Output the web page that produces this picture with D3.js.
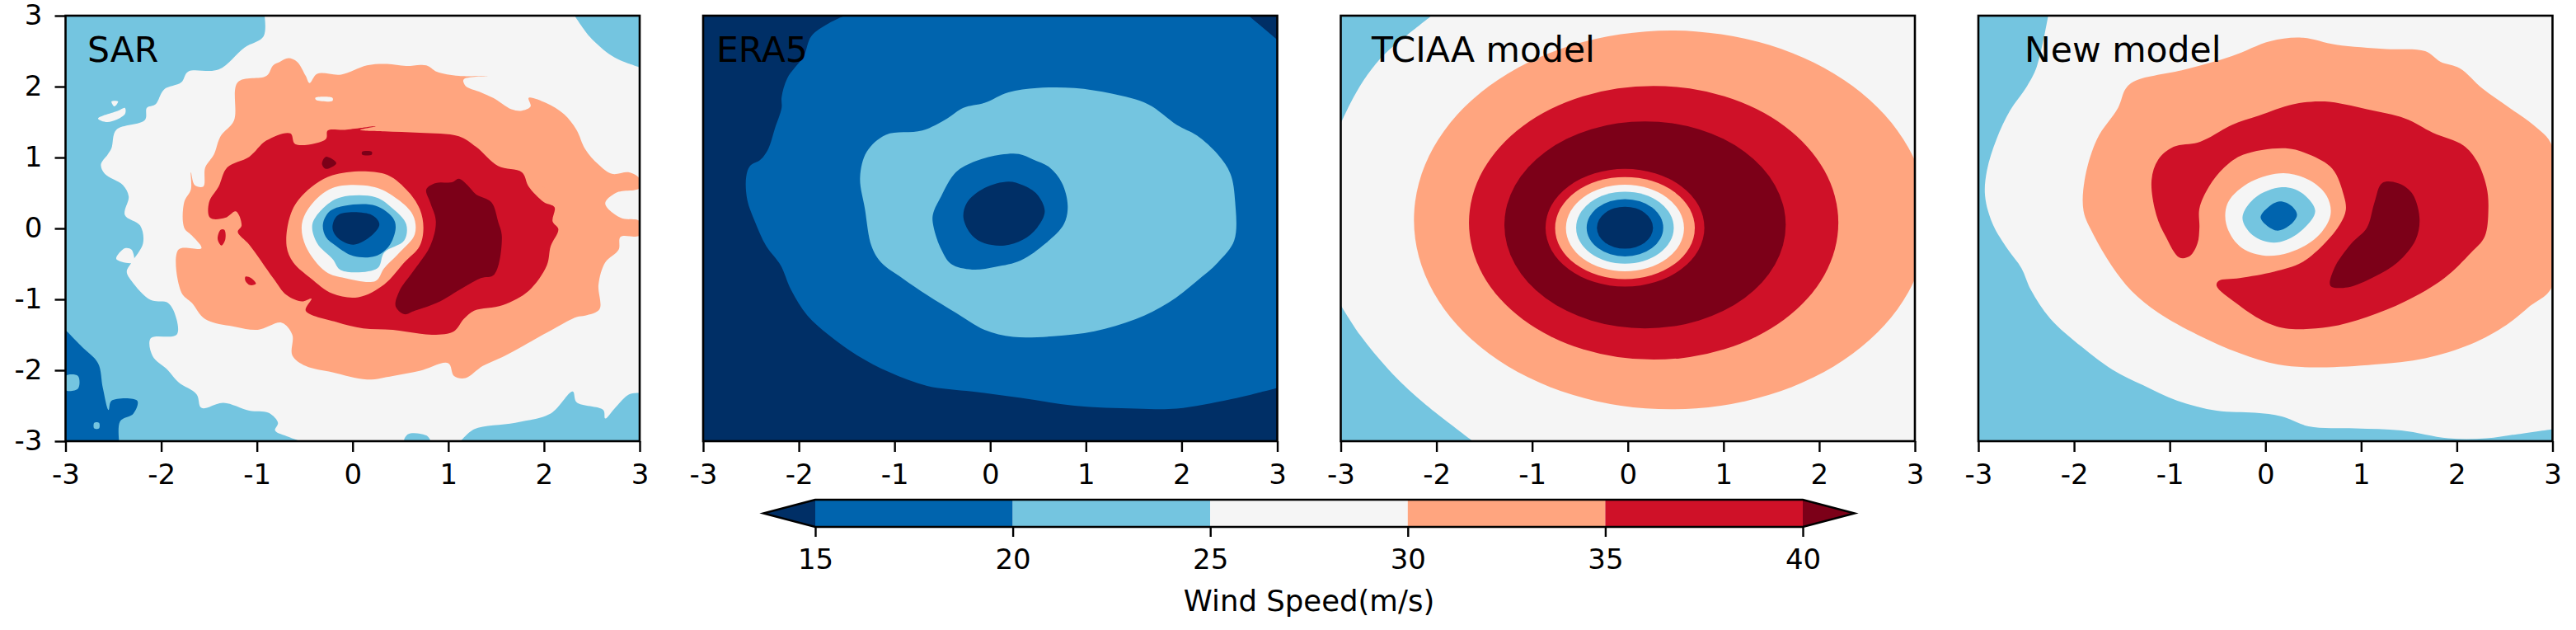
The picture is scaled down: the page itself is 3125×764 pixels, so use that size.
<!DOCTYPE html>
<html>
<head>
<meta charset="utf-8">
<script src="https://cdn.jsdelivr.net/npm/d3@7"></script>
<style>
  html, body { margin: 0; padding: 0; background: white; }
  text { font-family: "DejaVu Sans", sans-serif; fill: black; }
</style>
</head>
<body>
<div class="chart"></div>
<script>

// wind speed bands
var levels = [15, 20, 25, 30, 35, 40];
var bandColors = ["#002f66", "#0064ae", "#74c5e0", "#f5f5f5", "#ffa57f", "#cf1128", "#7c0018"];
var axisTicks = [-3, -2, -1, 0, 1, 2, 3];
var panelNames = ["SAR", "ERA5", "TCIAA model", "New model"];

// contour outlines below are [x, y] in the axis units

// ---- SAR ----
var sarLightLeft = [[-0.92,3],[-0.93,2.71],[-1.13,2.55],[-1.40,2.24],[-1.72,2.21],[-1.79,2.06],[-1.97,1.96],[-2.06,1.75],[-2.15,1.70],[-2.17,1.53],[-2.47,1.39],[-2.52,1.13],[-2.56,1.04],[-2.63,0.90],[-2.59,0.77],[-2.40,0.61],[-2.34,0.45],[-2.38,0.19],[-2.22,0.04],[-2.19,-0.21],[-2.31,-0.48],[-2.36,-0.61],[-2.31,-0.74],[-2.11,-1.01],[-1.93,-1.05],[-1.84,-1.28],[-1.84,-1.50],[-2.11,-1.55],[-2.09,-1.80],[-1.93,-2.0],[-1.82,-2.17],[-1.63,-2.34],[-1.58,-2.53],[-1.35,-2.46],[-1.08,-2.57],[-0.88,-2.6],[-0.78,-2.74],[-0.81,-2.85],[-0.67,-2.94],[-0.55,-3]];
var sarLightLeftClose = [[-3,-3],[-3,3]];
var sarLightTopRight = [[2.32,3],[2.48,2.70],[2.68,2.46],[2.80,2.37],[3,2.27]];
var sarLightTopRightClose = [[3,3]];
var sarLightBottomRight = [[1.13,-3],[1.27,-2.83],[1.70,-2.74],[2.07,-2.61],[2.30,-2.30],[2.34,-2.45],[2.62,-2.56],[2.64,-2.68],[2.75,-2.52],[2.89,-2.34],[3,-2.32]];
var sarLightBottomRightClose = [[3,-3]];
var sarLightBottom = [[0.54,-3],[0.58,-2.90],[0.77,-2.92],[0.81,-3]];
var sarHole1 = [[-2.66,1.55],[-2.45,1.66],[-2.38,1.70],[-2.38,1.61],[-2.56,1.50]];
var sarHole2 = [[-2.52,1.79],[-2.45,1.79],[-2.49,1.72]];
var sarHole3 = [[-2.38,-0.28],[-2.31,-0.30],[-2.29,-0.48],[-2.47,-0.43]];
var sarBlueCorner = [[-3,-1.43],[-2.82,-1.68],[-2.66,-1.90],[-2.61,-2.25],[-2.55,-2.56],[-2.52,-2.43],[-2.25,-2.43],[-2.29,-2.61],[-2.43,-2.72],[-2.44,-3]];
var sarBlueCornerClose = [[-3,-3]];
var sarCornerHole1 = [[-3,-2.08],[-2.87,-2.08],[-2.87,-2.26],[-3,-2.28]];
var sarCornerHole2 = [[-2.70,-2.74],[-2.65,-2.74],[-2.65,-2.82],[-2.70,-2.82]];
var sarSalmon = [[-0.76,2.35],[-0.67,2.40],[-0.58,2.35],[-0.49,2.15],[-0.45,2.05],[-0.37,2.18],[-0.12,2.17],[0.15,2.30],[0.36,2.32],[0.56,2.29],[0.77,2.30],[0.88,2.21],[1.11,2.15],[1.41,2.15],[1.16,2.10],[1.18,2.01],[1.34,1.92],[1.47,1.84],[1.66,1.68],[1.77,1.66],[1.86,1.72],[1.84,1.84],[2.02,1.77],[2.21,1.61],[2.34,1.39],[2.43,1.12],[2.57,0.90],[2.71,0.77],[2.89,0.79],[3,0.70],[3,0.57],[2.75,0.50],[2.64,0.35],[2.80,0.15],[3,0.10],[3,-0.10],[2.80,-0.12],[2.78,-0.30],[2.64,-0.48],[2.57,-0.79],[2.58,-1.14],[2.43,-1.23],[2.34,-1.25],[2.11,-1.41],[1.79,-1.65],[1.57,-1.81],[1.36,-1.94],[1.18,-2.11],[1.06,-2.08],[1.0,-1.90],[0.70,-2.01],[0.42,-2.08],[0.15,-2.13],[-0.21,-2.03],[-0.49,-1.94],[-0.63,-1.79],[-0.63,-1.50],[-0.74,-1.33],[-0.99,-1.43],[-1.22,-1.39],[-1.54,-1.28],[-1.68,-1.05],[-1.79,-0.90],[-1.82,-0.30],[-1.58,-0.28],[-1.68,-0.10],[-1.76,0.01],[-1.76,0.37],[-1.69,0.55],[-1.69,0.79],[-1.65,0.61],[-1.56,0.59],[-1.54,0.86],[-1.45,1.04],[-1.38,1.30],[-1.24,1.52],[-1.20,2.06],[-0.90,2.15],[-0.83,2.30]];
var sarSalmonHole = [[-0.39,1.84],[-0.21,1.84],[-0.21,1.80],[-0.38,1.81]];
var sarRed = [[-0.90,1.24],[-0.65,1.34],[-0.60,1.19],[-0.28,1.26],[-0.26,1.38],[-0.08,1.39],[0.24,1.44],[0.08,1.39],[0.33,1.37],[0.70,1.35],[1.11,1.30],[1.29,1.15],[1.52,0.88],[1.77,0.79],[1.84,0.59],[2.0,0.37],[2.11,0.30],[2.09,0.10],[2.15,-0.01],[2.07,-0.25],[2.03,-0.52],[1.84,-0.88],[1.57,-1.08],[1.27,-1.16],[1.16,-1.28],[1.06,-1.45],[0.84,-1.50],[0.42,-1.43],[0.11,-1.41],[-0.17,-1.32],[-0.49,-1.16],[-0.43,-0.99],[-0.53,-1.03],[-0.69,-0.94],[-0.83,-0.70],[-1.08,-0.23],[-1.20,-0.05],[-1.16,0.04],[-1.22,0.24],[-1.33,0.15],[-1.49,0.15],[-1.50,0.37],[-1.40,0.59],[-1.31,0.86],[-1.08,1.01]];
var sarRedSpot1 = [[-1.38,-0.02],[-1.34,-0.02],[-1.33,-0.15],[-1.37,-0.24],[-1.41,-0.15]];
var sarRedSpot2 = [[-1.12,-0.68],[-1.06,-0.70],[-1.01,-0.78],[-1.07,-0.80],[-1.12,-0.74]];
var sarRedHole = [[1.98,0.59],[2.05,0.53],[2.03,0.50],[1.98,0.55]];
var sarDarkRed = [[0.77,0.55],[0.87,0.64],[1.04,0.65],[1.11,0.70],[1.20,0.61],[1.29,0.48],[1.45,0.37],[1.52,0.10],[1.56,-0.12],[1.48,-0.65],[1.34,-0.70],[1.16,-0.83],[0.88,-1.05],[0.65,-1.16],[0.54,-1.21],[0.45,-1.10],[0.49,-0.88],[0.63,-0.61],[0.81,-0.25],[0.87,0.10],[0.81,0.37]];
var sarDarkSpot1 = [[-0.28,1.01],[-0.17,0.92],[-0.28,0.84],[-0.32,0.91]];
var sarDarkSpot2 = [[0.10,1.08],[0.20,1.08],[0.20,1.04],[0.10,1.04]];
var sarEyeSalmon = [[-0.21,0.75],[0.33,0.77],[0.56,0.55],[0.70,0.28],[0.74,0.01],[0.70,-0.25],[0.54,-0.48],[0.33,-0.79],[0.06,-0.97],[-0.21,-0.92],[-0.44,-0.70],[-0.62,-0.48],[-0.69,-0.25],[-0.65,0.19],[-0.53,0.46]];
var sarEyeWhite = [[-0.21,0.57],[0.20,0.59],[0.42,0.46],[0.63,0.19],[0.65,-0.08],[0.49,-0.34],[0.33,-0.56],[0.24,-0.74],[-0.08,-0.70],[-0.28,-0.61],[-0.49,-0.25],[-0.53,0.06],[-0.44,0.32]];
var sarEyeLight = [[-0.12,0.44],[0.24,0.44],[0.42,0.28],[0.56,0.06],[0.54,-0.17],[0.33,-0.34],[0.26,-0.56],[-0.12,-0.59],[-0.21,-0.43],[-0.37,-0.21],[-0.42,0.06],[-0.28,0.32]];
var sarEyeBlue = [[-0.08,0.32],[0.24,0.32],[0.42,0.15],[0.45,0.01],[0.38,-0.25],[0.24,-0.39],[0.01,-0.39],[-0.17,-0.25],[-0.28,-0.12],[-0.31,0.06],[-0.24,0.24]];
var sarEyeNavy = [[-0.15,0.19],[0.20,0.19],[0.28,0.06],[0.20,-0.10],[0.01,-0.23],[-0.15,-0.14],[-0.21,0.01]];

// ---- ERA5 ----
var eraBlue = [[-1.52,3],[-1.69,2.89],[-1.87,2.71],[-1.95,2.43],[-2.12,2.12],[-2.18,1.85],[-2.18,1.70],[-2.25,1.41],[-2.32,1.12],[-2.40,0.97],[-2.51,0.88],[-2.55,0.73],[-2.54,0.41],[-2.46,0.10],[-2.34,-0.25],[-2.19,-0.52],[-2.08,-0.87],[-1.91,-1.23],[-1.69,-1.50],[-1.39,-1.79],[-1.05,-2.03],[-0.66,-2.22],[-0.19,-2.30],[0.32,-2.39],[0.88,-2.50],[1.52,-2.54],[1.95,-2.54],[2.51,-2.41],[3,-2.25]];
var eraBlueClose = [[3,2.66],[2.70,3]];
var eraLight = [[-1.09,1.32],[-0.71,1.38],[-0.45,1.55],[-0.28,1.70],[-0.06,1.77],[0.19,1.92],[0.49,1.98],[0.88,1.98],[1.27,1.90],[1.65,1.75],[1.95,1.46],[2.16,1.31],[2.38,1.04],[2.51,0.77],[2.56,0.37],[2.55,-0.17],[2.38,-0.48],[2.16,-0.74],[1.86,-1.05],[1.52,-1.28],[1.09,-1.45],[0.66,-1.52],[0.24,-1.53],[-0.06,-1.43],[-0.36,-1.19],[-0.66,-0.94],[-0.92,-0.70],[-1.14,-0.48],[-1.24,-0.25],[-1.31,0.28],[-1.36,0.72],[-1.29,1.08]];
var eraEyeBlue = [[0.11,1.04],[0.30,1.05],[0.45,0.97],[0.62,0.86],[0.75,0.64],[0.81,0.32],[0.77,0.06],[0.58,-0.21],[0.32,-0.45],[0.06,-0.54],[-0.19,-0.58],[-0.41,-0.50],[-0.51,-0.30],[-0.59,0.01],[-0.60,0.19],[-0.51,0.46],[-0.36,0.79],[-0.15,0.95]];
var eraEyeNavy = [[0.19,0.66],[0.34,0.61],[0.49,0.48],[0.57,0.24],[0.49,0.01],[0.34,-0.16],[0.15,-0.24],[-0.06,-0.21],[-0.19,-0.10],[-0.28,0.15],[-0.24,0.37],[-0.06,0.57]];

// ---- TCIAA model ----
var tciaaCornerTop = [[-2.05,3],[-2.33,2.70],[-2.54,2.46],[-2.72,2.17],[-2.87,1.84],[-3,1.48]];
var tciaaCornerTopClose = [[-3,3]];
var tciaaCornerBottom = [[-3,-1.08],[-2.80,-1.50],[-2.50,-1.99],[-2.16,-2.43],[-1.62,-3]];
var tciaaCornerBottomClose = [[-3,-3]];
// wind speed inside, centre x, centre y, radius x, radius y
var tciaaRingSpeed = [32, 37, 42, 37, 32, 27, 22, 17, 12];
var tciaaRingCx = [0.45, 0.27, 0.18, -0.03, -0.03, -0.03, -0.03, -0.03, -0.03];
var tciaaRingCy = [0.12, 0.08, 0.05, 0.01, 0.005, 0.005, 0.01, 0.01, 0.01];
var tciaaRingRx = [2.685, 1.93, 1.47, 0.83, 0.73, 0.617, 0.51, 0.40, 0.293];
var tciaaRingRy = [2.67, 1.93, 1.46, 0.83, 0.72, 0.61, 0.507, 0.404, 0.296];

// ---- New model ----
var newLight = [[-2.27,3],[-2.39,2.28],[-2.49,2.01],[-2.67,1.66],[-2.81,1.26],[-2.91,0.82],[-2.93,0.46],[-2.85,0.06],[-2.69,-0.30],[-2.55,-0.56],[-2.45,-0.87],[-2.25,-1.27],[-1.92,-1.67],[-1.60,-1.99],[-1.28,-2.21],[-0.92,-2.43],[-0.51,-2.57],[-0.11,-2.60],[0.17,-2.65],[0.45,-2.79],[0.94,-2.82],[1.42,-2.85],[1.91,-2.96],[2.31,-2.96],[2.64,-2.90],[3,-2.83]];
var newLightClose = [[3,-3],[-3,-3],[-3,3]];
var newSalmon = [[-1.46,1.97],[-1.36,2.08],[-0.84,2.24],[-0.35,2.43],[0.05,2.64],[0.38,2.69],[0.74,2.59],[1.26,2.53],[1.67,2.50],[1.83,2.35],[2.03,2.26],[2.27,1.97],[2.55,1.70],[2.80,1.46],[3,1.15],[3,-0.81],[2.76,-1.10],[2.52,-1.36],[2.15,-1.63],[1.67,-1.83],[1.14,-1.92],[0.54,-1.96],[0.13,-1.92],[-0.27,-1.76],[-0.71,-1.50],[-1.12,-1.19],[-1.40,-0.88],[-1.61,-0.52],[-1.80,-0.08],[-1.90,0.24],[-1.89,0.68],[-1.76,1.26],[-1.54,1.70]];
var newRed = [[-0.51,-0.81],[-0.31,-1.05],[-0.03,-1.30],[0.21,-1.41],[0.66,-1.39],[1.06,-1.25],[1.46,-1.03],[1.87,-0.70],[2.15,-0.34],[2.29,-0.12],[2.33,0.28],[2.31,0.59],[2.21,0.95],[2.07,1.17],[1.75,1.35],[1.46,1.55],[1.06,1.68],[0.62,1.79],[0.29,1.75],[-0.07,1.59],[-0.35,1.46],[-0.59,1.28],[-0.71,1.21],[-0.96,1.15],[-1.12,0.97],[-1.19,0.68],[-1.14,0.19],[-1.04,-0.12],[-0.90,-0.41],[-0.79,-0.39],[-0.71,-0.21],[-0.69,0.01],[-0.69,0.28],[-0.59,0.59],[-0.43,0.86],[-0.23,1.04],[0.21,1.13],[0.46,1.04],[0.70,0.84],[0.82,0.46],[0.84,0.26],[0.78,0.06],[0.62,-0.21],[0.38,-0.48],[0.09,-0.61],[-0.27,-0.70],[-0.49,-0.74]];
var newDarkRed = [[1.22,0.64],[1.38,0.64],[1.53,0.50],[1.61,0.15],[1.57,-0.16],[1.38,-0.48],[1.14,-0.68],[0.86,-0.83],[0.68,-0.81],[0.72,-0.56],[0.90,-0.21],[1.06,0.01],[1.14,0.37]];
var newEyeWhite = [[0.19,0.78],[0.46,0.68],[0.64,0.46],[0.68,0.19],[0.54,-0.12],[0.25,-0.34],[-0.03,-0.38],[-0.27,-0.25],[-0.41,0.06],[-0.39,0.37],[-0.15,0.66]];
var newEyeLight = [[0.17,0.58],[0.38,0.50],[0.52,0.24],[0.33,-0.08],[0.09,-0.20],[-0.13,-0.10],[-0.24,0.15],[-0.11,0.43]];
var newEyeBlue = [[0.15,0.38],[0.27,0.32],[0.33,0.19],[0.25,0.04],[0.11,-0.03],[-0.05,0.15],[0.03,0.30]];

// layers are painted in order: [wind speed, outline, straight closing points]
var sarLayers = [
  [22, sarLightLeft, sarLightLeftClose], [22, sarLightTopRight, sarLightTopRightClose],
  [22, sarLightBottomRight, sarLightBottomRightClose], [22, sarLightBottom],
  [27, sarHole1], [27, sarHole2], [27, sarHole3],
  [17, sarBlueCorner, sarBlueCornerClose], [22, sarCornerHole1], [22, sarCornerHole2],
  [32, sarSalmon], [27, sarSalmonHole],
  [37, sarRed], [37, sarRedSpot1], [37, sarRedSpot2], [32, sarRedHole],
  [42, sarDarkRed], [42, sarDarkSpot1], [42, sarDarkSpot2],
  [32, sarEyeSalmon], [27, sarEyeWhite], [22, sarEyeLight], [17, sarEyeBlue], [12, sarEyeNavy]
];
var eraLayers = [
  [17, eraBlue, eraBlueClose], [22, eraLight], [17, eraEyeBlue], [12, eraEyeNavy]
];
var tciaaLayers = [
  [22, tciaaCornerTop, tciaaCornerTopClose], [22, tciaaCornerBottom, tciaaCornerBottomClose]
];
var newLayers = [
  [22, newLight, newLightClose], [32, newSalmon],
  [37, newRed], [42, newDarkRed], [27, newEyeWhite], [22, newEyeLight], [17, newEyeBlue]
];

var width = 3125, height = 764;
var panelLeft = [79.5, 853, 1626.5, 2400];
var panelWidth = 696.5;
var panelTop = 19, panelBottom = 535;
var labelX = [106, 869, 1664, 2456];
var panelBack = [27, 12, 27, 27];

var color = d3.scaleThreshold().domain(levels).range(bandColors);

var svg = d3.select(".chart").append("svg")
    .attr("width", width)
    .attr("height", height)
    .style("display", "block");

var y = d3.scaleLinear().domain([-3, 3]).range([panelBottom, panelTop]);

function drawLayer(g, x, layer) {
  var line = d3.line()
      .x(function(d) { return x(d[0]); })
      .y(function(d) { return y(d[1]); });
  var path;
  if (layer[2]) {
    // smooth contour, then straight along the frame
    path = line.curve(d3.curveCatmullRom)(layer[1]);
    layer[2].forEach(function(d) { path += "L" + x(d[0]) + "," + y(d[1]); });
    path += "Z";
  } else {
    path = line.curve(d3.curveCatmullRomClosed)(layer[1]);
  }
  g.append("path")
      .attr("d", path)
      .attr("fill", color(layer[0]));
}

function drawPanel(i, layers) {
  var x = d3.scaleLinear().domain([-3, 3]).range([panelLeft[i], panelLeft[i] + panelWidth]);

  svg.append("clipPath").attr("id", "clip" + i)
    .append("rect")
      .attr("x", panelLeft[i])
      .attr("y", panelTop)
      .attr("width", panelWidth)
      .attr("height", panelBottom - panelTop);

  var g = svg.append("g").attr("clip-path", "url(#clip" + i + ")");

  g.append("rect")
      .attr("x", panelLeft[i])
      .attr("y", panelTop)
      .attr("width", panelWidth)
      .attr("height", panelBottom - panelTop)
      .attr("fill", color(panelBack[i]));

  layers.forEach(function(layer) { drawLayer(g, x, layer); });

  if (i == 2) {
    tciaaRingSpeed.forEach(function(speed, k) {
      g.append("ellipse")
          .attr("cx", x(tciaaRingCx[k]))
          .attr("cy", y(tciaaRingCy[k]))
          .attr("rx", x(tciaaRingRx[k]) - x(0))
          .attr("ry", y(0) - y(tciaaRingRy[k]))
          .attr("fill", color(speed));
    });
  }

  svg.append("rect")
      .attr("x", panelLeft[i])
      .attr("y", panelTop)
      .attr("width", panelWidth)
      .attr("height", panelBottom - panelTop)
      .attr("fill", "none")
      .attr("stroke", "black")
      .attr("stroke-width", 2.6);

  var xAxis = svg.append("g")
      .attr("transform", "translate(0," + panelBottom + ")")
      .call(d3.axisBottom(x).tickValues(axisTicks).tickFormat(String).tickSize(13).tickPadding(15));
  styleAxis(xAxis);

  if (i == 0) {
    var yAxis = svg.append("g")
        .attr("transform", "translate(" + panelLeft[0] + ",0)")
        .call(d3.axisLeft(y).tickValues(axisTicks).tickFormat(String).tickSize(13).tickPadding(15));
    styleAxis(yAxis);
  }

  svg.append("text")
      .text(panelNames[i])
      .attr("x", labelX[i])
      .attr("y", 75)
      .attr("font-size", 42.5);
}

function styleAxis(axis) {
  axis.select(".domain").remove();
  axis.selectAll("line").attr("stroke-width", 2.4).attr("stroke", "black");
  axis.selectAll("text")
      .attr("font-size", 34)
      .attr("font-family", '"DejaVu Sans", sans-serif');
}

function drawColorbar() {
  var barTop = 606, barBottom = 639;
  var tipLeft = 926, tipRight = 2250;
  var c = d3.scaleLinear().domain([15, 40]).range([989, 2187]);
  var mid = (barTop + barBottom) / 2;
  var g = svg.append("g");

  g.append("path")
      .attr("d", "M" + c(15) + "," + barTop + "L" + tipLeft + "," + mid + "L" + c(15) + "," + barBottom + "Z")
      .attr("fill", bandColors[0]);
  g.append("path")
      .attr("d", "M" + c(40) + "," + barTop + "L" + tipRight + "," + mid + "L" + c(40) + "," + barBottom + "Z")
      .attr("fill", bandColors[6]);

  g.selectAll("rect")
      .data(d3.pairs(levels))
    .enter().append("rect")
      .attr("x", function(d) { return c(d[0]); })
      .attr("y", barTop)
      .attr("width", function(d) { return c(d[1]) - c(d[0]); })
      .attr("height", barBottom - barTop)
      .attr("fill", function(d) { return color(d[0]); });

  g.append("path")
      .attr("d", "M" + c(15) + "," + barTop + "L" + tipLeft + "," + mid + "L" + c(15) + "," + barBottom +
                 "L" + c(40) + "," + barBottom + "L" + tipRight + "," + mid + "L" + c(40) + "," + barTop + "Z")
      .attr("fill", "none")
      .attr("stroke", "black")
      .attr("stroke-width", 2.4);

  var axis = svg.append("g")
      .attr("transform", "translate(0," + barBottom + ")")
      .call(d3.axisBottom(c).tickValues(levels).tickFormat(String).tickSize(12).tickPadding(15));
  styleAxis(axis);

  svg.append("text")
      .text("Wind Speed(m/s)")
      .attr("x", 1588)
      .attr("y", 741)
      .attr("text-anchor", "middle")
      .attr("font-size", 35.5);
}

drawPanel(0, sarLayers);
drawPanel(1, eraLayers);
drawPanel(2, tciaaLayers);
drawPanel(3, newLayers);
drawColorbar();

</script>
</body>
</html>
